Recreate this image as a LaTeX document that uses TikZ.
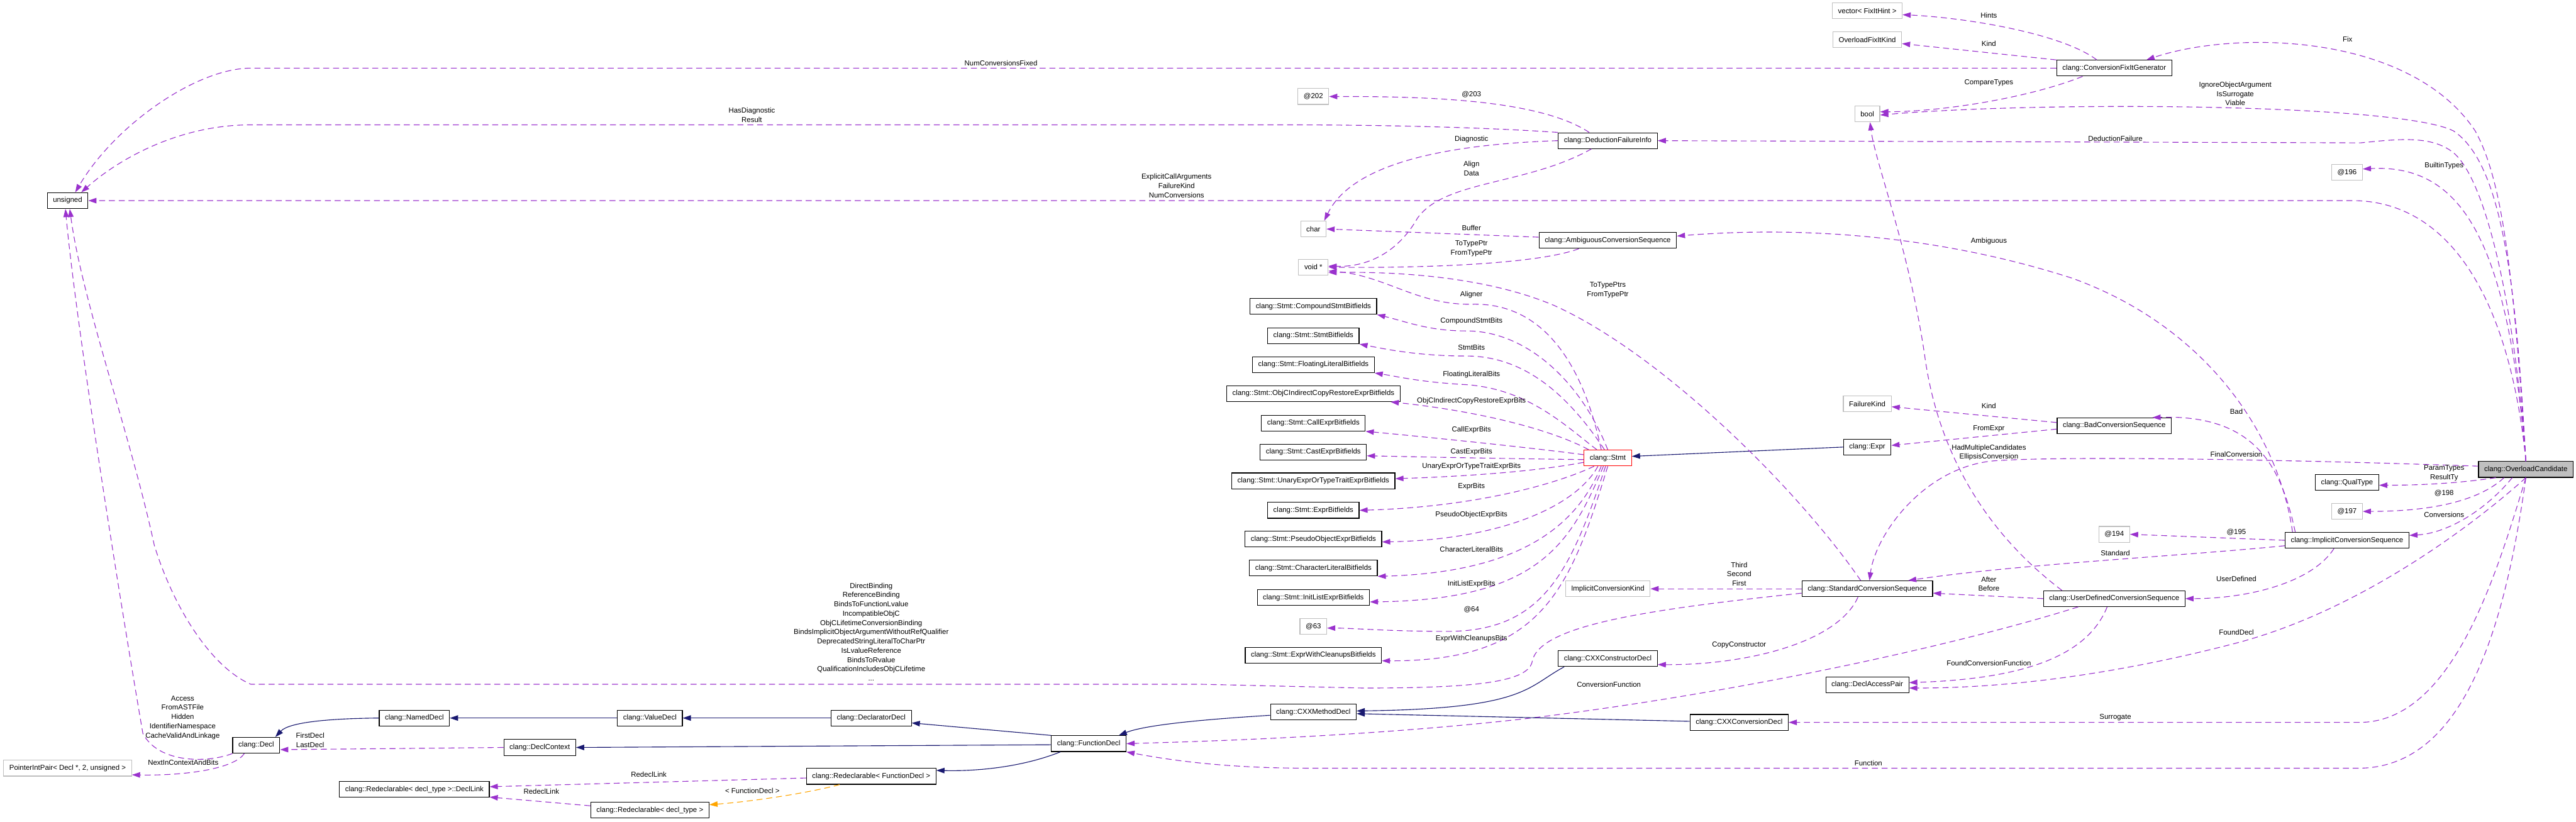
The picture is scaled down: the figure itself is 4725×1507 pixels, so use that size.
\documentclass[tikz,border=0pt]{standalone}
\usepackage{fontspec}
\setmainfont{Liberation Sans}
\usepackage{xcolor}
\usetikzlibrary{arrows.meta}

\definecolor{edgepurple}{HTML}{9A32CD}
\definecolor{navyline}{HTML}{191970}
\definecolor{tplorange}{HTML}{FFA500}
\definecolor{boxgrey}{HTML}{BFBFBF}

\begin{document}
\begin{tikzpicture}[x=1pt, y=-1pt,
    cls/.style={rectangle, draw=black, fill=white, line width=1.3pt, minimum height=29pt, inner xsep=10.5pt, inner ysep=0pt, font=\fontsize{13.2}{17}\selectfont},
    ext/.style={cls, draw=boxgrey},
    trunc/.style={cls, draw=red},
    cur/.style={cls, fill=boxgrey},
    mem/.style={draw=edgepurple, line width=1.3pt, dash pattern=on 11pt off 7pt, -{Triangle[length=15pt,width=10pt]}},
    inh/.style={draw=navyline, line width=1.3pt, -{Triangle[length=15pt,width=10pt]}},
    tpl/.style={draw=tplorange, line width=1.3pt, dash pattern=on 11pt off 7pt, -{Triangle[length=15pt,width=10pt]}},
    lbl/.style={align=center, font=\fontsize{13.2}{17}\selectfont, inner sep=0pt},
]
\useasboundingbox (0,0) rectangle (4725,1507);

% Top row
\node[ext] (vec) at (3425,20) {vector< FixItHint >};
\node[ext] (fixkind) at (3425,73) {OverloadFixItKind};
\node[cls] (fixgen) at (3878,125) {clang::ConversionFixItGenerator};
\node[ext] (a202) at (2409,177) {@202};
\node[ext] (bool) at (3425,209) {bool};
\node[cls] (dfi) at (2949,258) {clang::DeductionFailureInfo};
\node[ext] (a196) at (4305,316) {@196};
\node[cls] (unsig) at (124,368) {unsigned};
\node[ext] (chr) at (2409,420) {char};
\node[cls] (ambig) at (2949,441) {clang::AmbiguousConversionSequence};
\node[ext] (voidp) at (2409,490) {void *};

% Stmt bitfields
\node[cls] (compound) at (2409,562) {clang::Stmt::CompoundStmtBitfields};
\node[cls] (stmtbf) at (2409,616) {clang::Stmt::StmtBitfields};
\node[cls] (floating) at (2409,669) {clang::Stmt::FloatingLiteralBitfields};
\node[cls] (objc) at (2409,722) {clang::Stmt::ObjCIndirectCopyRestoreExprBitfields};
\node[cls] (callexpr) at (2409,776) {clang::Stmt::CallExprBitfields};
\node[cls] (castexpr) at (2409,829) {clang::Stmt::CastExprBitfields};
\node[cls] (unary) at (2409,882) {clang::Stmt::UnaryExprOrTypeTraitExprBitfields};
\node[cls] (exprbf) at (2409,936) {clang::Stmt::ExprBitfields};
\node[cls] (pseudo) at (2409,989) {clang::Stmt::PseudoObjectExprBitfields};
\node[cls] (charlit) at (2409,1042) {clang::Stmt::CharacterLiteralBitfields};
\node[cls] (initlist) at (2409,1096) {clang::Stmt::InitListExprBitfields};
\node[ext] (a63) at (2409,1149) {@63};
\node[cls] (cleanups) at (2409,1202) {clang::Stmt::ExprWithCleanupsBitfields};

% Middle
\node[trunc] (stmt) at (2949,840) {clang::Stmt};
\node[ext] (failkind) at (3425,741) {FailureKind};
\node[cls] (expr) at (3425,820) {clang::Expr};
\node[cls] (badcs) at (3878,781) {clang::BadConversionSequence};
\node[cur] (cand) at (4633,861) {clang::OverloadCandidate};
\node[cls] (qualtype) at (4305,885) {clang::QualType};
\node[ext] (a197) at (4305,938) {@197};
\node[ext] (a194) at (3878,980) {@194};
\node[cls] (ics) at (4305,991) {clang::ImplicitConversionSequence};
\node[ext] (convkind) at (2949,1080) {ImplicitConversionKind};
\node[cls] (scs) at (3425,1080) {clang::StandardConversionSequence};
\node[cls] (udcs) at (3878,1098) {clang::UserDefinedConversionSequence};
\node[cls] (ctor) at (2949,1208) {clang::CXXConstructorDecl};
\node[cls] (dap) at (3425,1256) {clang::DeclAccessPair};
\node[cls] (convdecl) at (3190,1325) {clang::CXXConversionDecl};
\node[cls] (method) at (2409,1306) {clang::CXXMethodDecl};

% Decl hierarchy
\node[cls] (declarator) at (1598,1317) {clang::DeclaratorDecl};
\node[cls] (funcdecl) at (1997,1364) {clang::FunctionDecl};
\node[cls] (redeclfd) at (1598,1424) {clang::Redeclarable< FunctionDecl >};
\node[cls] (valuedecl) at (1192,1317) {clang::ValueDecl};
\node[cls] (nameddecl) at (760,1317) {clang::NamedDecl};
\node[cls] (decl) at (470,1367) {clang::Decl};
\node[cls] (declctx) at (990,1371) {clang::DeclContext};
\node[ext] (pip) at (124,1409) {PointerIntPair< Decl *, 2, unsigned >};
\node[cls] (decllink) at (760,1448) {clang::Redeclarable< decl\_type >::DeclLink};
\node[cls] (redecl) at (1192,1486) {clang::Redeclarable< decl\_type >};

% Members of OverloadCandidate
\draw[mem] (cand.north) .. controls (4610,500) and (4590,330) .. (4540,240) .. controls (4420,60) and (4100,55) .. ([xshift=59pt]fixgen.north);
\draw[mem] (cand.north) .. controls (4615,520) and (4590,300) .. (4500,240) .. controls (4400,190) and (3750,185) .. ([yshift=-2pt]bool.east);
\draw[mem] (cand.north) .. controls (4612,560) and (4560,330) .. (4500,280) .. controls (4460,248) and (4400,255) .. (4330,262) -- (dfi.east);
\draw[mem] (cand.north) .. controls (4600,450) and (4520,300) .. ([yshift=6pt]a196.east);
\draw[mem] (cand.north) .. controls (4605,560) and (4500,372) .. (4320,368) -- (unsig.east);
\draw[mem] (cand.south) .. controls (4595,1150) and (4520,1405) .. (4330,1409) -- (2400,1409) .. controls (2250,1409) and (2150,1395) .. (funcdecl.south east);
\draw[mem] (cand.south) .. controls (4580,1050) and (4500,1322) .. (4330,1325) -- (convdecl.east);
\draw[mem] (cand.south) .. controls (4540,960) and (4330,1120) .. (4100,1180) .. controls (3900,1232) and (3700,1262) .. ([yshift=-6pt]dap.east);
\draw[mem] ([xshift=-55pt]cand.south) .. controls (4520,885) and (4450,890) .. ([yshift=-5pt]qualtype.east);
\draw[mem] ([xshift=-40pt]cand.south) .. controls (4540,925) and (4440,938) .. (a197.east);
\draw[mem] ([xshift=-25pt]cand.south) .. controls (4560,935) and (4490,978) .. ([yshift=9pt]ics.east);
\draw[mem] ([yshift=6pt]cand.west) .. controls (4200,843) and (3800,836) .. (3660,845) .. controls (3530,855) and (3440,980) .. ([xshift=4pt]scs.north);

\node[lbl] (lfix) at (4306,72) {Fix};
\node[lbl] (lview) at (4100,172) {IgnoreObjectArgument\\IsSurrogate\\Viable};
\node[lbl] (lded) at (3880,254) {DeductionFailure};
\node[lbl] (lbuilt) at (4483,304) {BuiltinTypes};
\node[lbl] (lcount) at (2158,341) {ExplicitCallArguments\\FailureKind\\NumConversions};
\node[lbl] (lfunc) at (3427,1400) {Function};
\node[lbl] (lsurr) at (3880,1316) {Surrogate};
\node[lbl] (lfound) at (4102,1160) {FoundDecl};
\node[lbl] (lparam) at (4483,868) {ParamTypes\\ResultTy};
\node[lbl] (l198) at (4483,905) {@198};
\node[lbl] (lconv) at (4483,944) {Conversions};
\node[lbl] (lfinal) at (4102,833) {FinalConversion};

% Implicit conversion sequence
\draw[mem] ([xshift=-100pt]ics.north) .. controls (4180,800) and (4050,600) .. (3800,510) .. controls (3550,430) and (3300,415) .. ([yshift=8pt]ambig.east);
\draw[mem] ([xshift=-95pt]ics.north) .. controls (4185,860) and (4140,760) .. ([xshift=70pt]badcs.north);
\draw[mem] ([yshift=-10pt]ics.west) .. controls (4000,1020) and (3700,1035) .. ([xshift=75pt]scs.north);
\draw[mem] ([xshift=-24pt]ics.south) .. controls (4240,1070) and (4120,1098) .. (udcs.east);
\draw[mem] (ics.west) -- (a194.east);
\node[lbl] (lambig) at (3648,443) {Ambiguous};
\node[lbl] (lbad) at (4102,755) {Bad};
\node[lbl] (lstd) at (3880,1015) {Standard};
\node[lbl] (luser) at (4102,1062) {UserDefined};
\node[lbl] (l195) at (4102,976) {@195};

% User defined conversion
\draw[mem] ([xshift=-96pt]udcs.north) .. controls (3620,960) and (3550,800) .. (3530,650) .. controls (3500,450) and (3440,300) .. ([xshift=5pt]bool.south);
\draw[mem] (udcs.west) -- ([yshift=-8pt]scs.east);
\draw[mem] ([xshift=-66pt]udcs.south) .. controls (3600,1180) and (3200,1270) .. (2800,1318) .. controls (2500,1352) and (2200,1360) .. (funcdecl.east);
\draw[mem] ([xshift=-13pt]udcs.south) .. controls (3830,1200) and (3720,1245) .. ([yshift=4pt]dap.east);
\node[lbl] (lmulti) at (3648,830) {HadMultipleCandidates\\EllipsisConversion};
\node[lbl] (lafter) at (3648,1071) {After\\Before};
\node[lbl] (lconvfn) at (2951,1256) {ConversionFunction};
\node[lbl] (lfoundfn) at (3648,1216) {FoundConversionFunction};

% Fix-it generator
\draw[mem] ([xshift=-32pt]fixgen.north) .. controls (3780,60) and (3600,32) .. ([yshift=-7pt]vec.east);
\draw[mem] (fixgen.north west) -- ([yshift=-7pt]fixkind.east);
\draw[mem] (fixgen.west) -- (460,125) .. controls (360,125) and (210,230) .. ([xshift=14pt]unsig.north);
\draw[mem] ([xshift=-58pt]fixgen.south) .. controls (3720,180) and (3560,205) .. ([yshift=4pt]bool.east);
\node[lbl] (lhints) at (3648,28) {Hints};
\node[lbl] (lkind) at (3648,80) {Kind};
\node[lbl] (lfixed) at (1836,116) {NumConversionsFixed};
\node[lbl] (lcmp) at (3648,152) {CompareTypes};

% Deduction failure info
\draw[mem] ([xshift=-34pt]dfi.north) .. controls (2820,180) and (2600,177) .. (a202.east);
\draw[mem] (dfi.north west) .. controls (2700,232) and (2500,229) .. (2360,229) -- (460,229) .. controls (330,229) and (220,290) .. ([xshift=25pt]unsig.north);
\draw[mem] (dfi.west) .. controls (2650,265) and (2480,300) .. ([xshift=20pt]chr.north);
\draw[mem] ([xshift=-30pt]dfi.south) .. controls (2800,340) and (2650,330) .. (2600,400) .. controls (2560,470) and (2500,490) .. ([yshift=2pt]voidp.east);
\node[lbl] (l203) at (2699,173) {@203};
\node[lbl] (lresult) at (1379,211) {HasDiagnostic\\Result};
\node[lbl] (ldiag) at (2699,255) {Diagnostic};
\node[lbl] (lalign) at (2699,309) {Align\\Data};

% Ambiguous conversion
\draw[mem] ([yshift=6pt]ambig.west) -- (chr.east);
\draw[mem] ([xshift=-53pt]ambig.south) .. controls (2820,485) and (2600,492) .. (voidp.east);
\node[lbl] (lbuf) at (2699,418) {Buffer};
\node[lbl] (ltyptr) at (2699,456) {ToTypePtr\\FromTypePtr};

% Stmt
\draw[mem] ([xshift=-12pt]stmt.north) .. controls (2900,650) and (2820,555) .. (2700,558) .. controls (2600,560) and (2540,505) .. ([yshift=-7pt]voidp.east);
\draw[mem] (stmt.north) .. controls (2900,700) and (2800,607) .. (2690,607) .. controls (2620,607) and (2580,590) .. (compound.south east);
\draw[mem] ([xshift=-6pt]stmt.north) .. controls (2880,730) and (2800,653) .. (2690,653) .. controls (2600,653) and (2540,640) .. (stmtbf.south east);
\draw[mem] ([xshift=-20pt]stmt.north) .. controls (2870,780) and (2800,710) .. (2680,705) .. controls (2600,700) and (2560,690) .. (floating.south east);
\draw[mem] ([xshift=-35pt]stmt.north) .. controls (2850,790) and (2720,755) .. ([xshift=-18pt]objc.south east);
\draw[mem] ([yshift=6pt]stmt.west) .. controls (2800,820) and (2600,800) .. (callexpr.south east);
\draw[mem] ([yshift=-3pt]stmt.west) .. controls (2750,841) and (2600,838) .. ([yshift=-7pt]castexpr.east);
\draw[mem] ([yshift=-8pt]stmt.west) .. controls (2800,868) and (2650,875) .. ([yshift=4pt]unary.east);
\draw[mem] ([xshift=-25pt]stmt.south) .. controls (2850,890) and (2700,930) .. (exprbf.east);
\draw[mem] ([xshift=-18pt]stmt.south) .. controls (2890,930) and (2750,990) .. ([yshift=-5pt]pseudo.east);
\draw[mem] ([xshift=-12pt]stmt.south) .. controls (2890,970) and (2780,1050) .. (charlit.south east);
\draw[mem] ([xshift=-8pt]stmt.south) .. controls (2880,1000) and (2820,1100) .. ([yshift=-8pt]initlist.east);
\draw[mem] ([xshift=-4pt]stmt.south) .. controls (2880,1050) and (2830,1160) .. (2650,1158) .. controls (2550,1158) and (2480,1152) .. ([yshift=-3pt]a63.east);
\draw[mem] (stmt.south) .. controls (2880,1080) and (2830,1213) .. ([yshift=-10pt]cleanups.east);
\draw[inh] (expr.west) -- ([yshift=3pt]stmt.east);
\node[lbl] (laligner) at (2699,541) {Aligner};
\node[lbl] (lcompound) at (2699,589) {CompoundStmtBits};
\node[lbl] (lstmtbits) at (2699,637) {StmtBits};
\node[lbl] (lfloating) at (2699,687) {FloatingLiteralBits};
\node[lbl] (lobjc) at (2699,736) {ObjCIndirectCopyRestoreExprBits};
\node[lbl] (lcall) at (2699,789) {CallExprBits};
\node[lbl] (lcast) at (2699,829) {CastExprBits};
\node[lbl] (lunary) at (2699,855) {UnaryExprOrTypeTraitExprBits};
\node[lbl] (lexpr) at (2699,892) {ExprBits};
\node[lbl] (lpseudo) at (2699,944) {PseudoObjectExprBits};
\node[lbl] (lcharlit) at (2699,1007) {CharacterLiteralBits};
\node[lbl] (linit) at (2699,1071) {InitListExprBits};
\node[lbl] (l64) at (2699,1118) {@64};
\node[lbl] (lcleanups) at (2699,1172) {ExprWithCleanupsBits};

% Bad conversion
\draw[mem] ([yshift=6pt]badcs.west) -- ([yshift=-5pt]failkind.east);
\draw[mem] ([yshift=-6pt]badcs.west) -- ([yshift=3pt]expr.east);
\node[lbl] (lfkind) at (3648,745) {Kind};
\node[lbl] (lfrom) at (3648,787) {FromExpr};

% Standard conversion
\draw[mem] (scs.west) -- (convkind.east);
\draw[mem] ([xshift=-17pt]scs.south) .. controls (3370,1180) and (3200,1220) .. ([yshift=-11pt]ctor.east);
\draw[mem] ([xshift=-12pt]scs.north) .. controls (3300,900) and (3050,650) .. (2850,560) .. controls (2720,505) and (2550,498) .. ([yshift=-10pt]voidp.east);
\draw[mem] ([yshift=-8pt]scs.west) .. controls (3000,1120) and (2820,1150) .. (2810,1215) .. controls (2800,1252) and (2700,1262) .. (2500,1262) -- (2200,1255) -- (460,1255) .. controls (390,1225) and (320,1120) .. (283,1000) .. controls (240,800) and (150,550) .. ([xshift=4pt]unsig.south);
\node[lbl] (lorder) at (3190,1053) {Third\\Second\\First};
\node[lbl] (lcopy) at (3190,1183) {CopyConstructor};
\node[lbl] (ltyptrs) at (2949,532) {ToTypePtrs\\FromTypePtr};
\node[lbl] (lbind) at (1598,1159) {DirectBinding\\ReferenceBinding\\BindsToFunctionLvalue\\IncompatibleObjC\\ObjCLifetimeConversionBinding\\BindsImplicitObjectArgumentWithoutRefQualifier\\DeprecatedStringLiteralToCharPtr\\IsLvalueReference\\BindsToRvalue\\QualificationIncludesObjCLifetime\\...};

% Decl
\draw[mem] (decl.south west) .. controls (380,1400) and (290,1400) .. (262,1345) .. controls (220,1100) and (140,600) .. ([xshift=-4pt]unsig.south);
\draw[mem] ([xshift=-22pt]decl.south) .. controls (430,1410) and (340,1423) .. ([yshift=3pt]pip.south east);
\draw[mem] (declctx.west) -- ([yshift=-8pt]decl.east);
\node[lbl] (laccess) at (335,1316) {Access\\FromASTFile\\Hidden\\IdentifierNamespace\\CacheValidAndLinkage};
\node[lbl] (lnext) at (336,1398) {NextInContextAndBits};
\node[lbl] (lfirst) at (569,1358) {FirstDecl\\LastDecl};

% Inheritance
\draw[inh] (nameddecl.west) .. controls (600,1318) and (530,1325) .. ([xshift=35pt]decl.north);
\draw[inh] (valuedecl.west) -- (nameddecl.east);
\draw[inh] (declarator.west) -- (valuedecl.east);
\draw[inh] (funcdecl.north west) -- ([yshift=-9pt]declarator.east);
\draw[inh] ([yshift=-2pt]funcdecl.west) -- (declctx.east);
\draw[inh] ([xshift=-52pt]funcdecl.south) .. controls (1880,1405) and (1800,1415) .. ([yshift=11pt]redeclfd.east);
\draw[inh] ([yshift=-6pt]method.west) .. controls (2200,1320) and (2100,1330) .. ([xshift=55pt]funcdecl.north);
\draw[inh] ([xshift=-80pt]ctor.south) .. controls (2800,1260) and (2800,1300) .. ([yshift=2pt]method.east);
\draw[inh] ([yshift=2pt]convdecl.west) -- ([yshift=-3pt]method.east);

% Redeclarable
\draw[mem] ([yshift=-3pt]redeclfd.west) -- ([yshift=5pt]decllink.east);
\draw[mem] ([yshift=8pt]redecl.west) -- ([yshift=-14pt]decllink.east);
\draw[tpl] ([xshift=-58pt]redeclfd.south) .. controls (1480,1455) and (1380,1470) .. ([yshift=10pt]redecl.east);
\node[lbl] (lredecl) at (1190,1421) {RedeclLink};
\node[lbl] (lredecltwo) at (993,1452) {RedeclLink};
\node[lbl] (ltpl) at (1380,1451) {< FunctionDecl >};

\end{tikzpicture}
\end{document}
